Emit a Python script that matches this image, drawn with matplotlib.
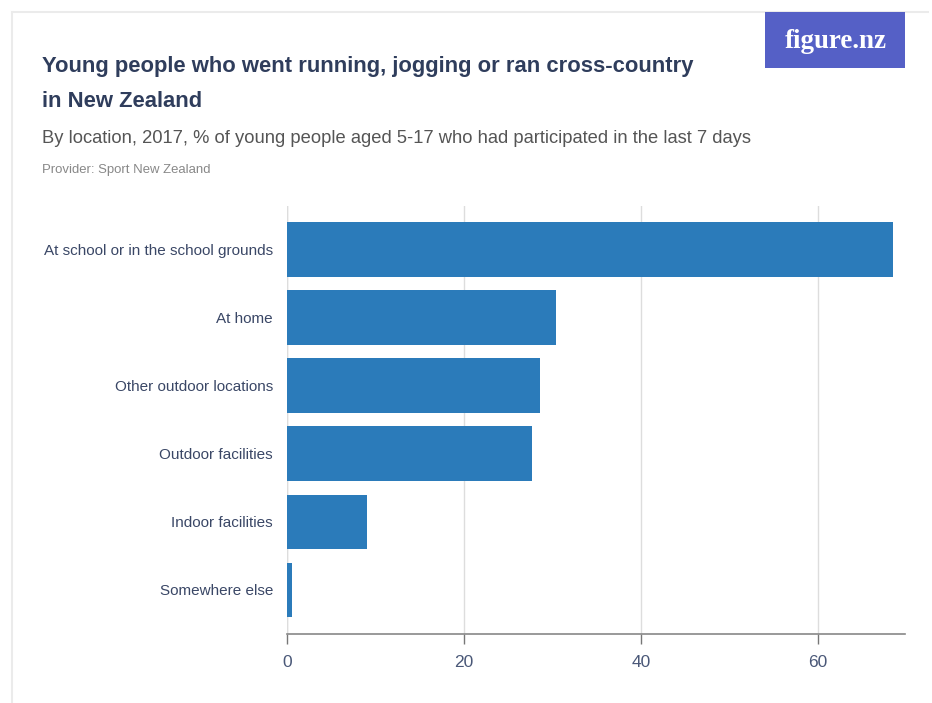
import matplotlib.pyplot as plt
from matplotlib.patches import Rectangle
from matplotlib.lines import Line2D

# Participation by location, 2017 (% of young people aged 5-17, last 7 days)
locations = [
    "At school or in the school grounds",
    "At home",
    "Other outdoor locations",
    "Outdoor facilities",
    "Indoor facilities",
    "Somewhere else",
]
percent = [68.4, 30.4, 28.6, 27.7, 9.0, 0.6]
x_ticks = [0, 20, 40, 60]

NAVY = "#2f3d5c"
BAR = "#2b7bba"

plt.rcParams["font.family"] = ["Liberation Sans", "DejaVu Sans"]

fig = plt.figure(figsize=(9.32, 7.03), dpi=100)
W, H = 932, 703


def fx(px):
    return px / W


def fy(py):
    return 1 - py / H


def fit_width(txt, target_px):
    # shrink/grow a text so its rendered width matches target_px
    renderer = fig.canvas.get_renderer()
    w = txt.get_window_extent(renderer).width
    txt.set_fontsize(txt.get_fontsize() * target_px / w)


# card edges (left and top only, the card runs off the other sides)
for xs, ys in [((fx(12), fx(12)), (fy(703), fy(12))),
               ((fx(12), fx(928)), (fy(12), fy(12)))]:
    fig.add_artist(Line2D(xs, ys, transform=fig.transFigure,
                          color="#ebebeb", linewidth=1.5, zorder=0))

# logo block
fig.patches.append(Rectangle((fx(765), fy(68)), fx(140), 56 / H,
                             transform=fig.transFigure, facecolor="#5560c6",
                             edgecolor="none", zorder=1))
logo = fig.text(fx(836), fy(41), "figure.nz", color="white", fontsize=17,
                family=["Liberation Serif", "DejaVu Serif"], fontweight="bold",
                ha="center", va="center", zorder=2)
fit_width(logo, 102)

t1 = fig.text(fx(42), fy(72), "Young people who went running, jogging or ran cross-country",
              color=NAVY, fontsize=18, fontweight="bold", ha="left", va="baseline")
fit_width(t1, 650)
t2 = fig.text(fx(42), fy(107), "in New Zealand",
              color=NAVY, fontsize=t1.get_fontsize(), fontweight="bold",
              ha="left", va="baseline")
sub = fig.text(fx(42), fy(143),
               "By location, 2017, % of young people aged 5-17 who had participated in the last 7 days",
               color="#555555", fontsize=14, ha="left", va="baseline")
fit_width(sub, 711)
prov = fig.text(fx(42), fy(173), "Provider: Sport New Zealand",
                color="#888888", fontsize=9.5, ha="left", va="baseline")
fit_width(prov, 168)

ax = fig.add_axes([fx(287), fy(634), fx(905 - 287), (634 - 206) / H])
ax.set_zorder(3)
ax.patch.set_alpha(0)
y = list(range(len(locations)))
ax.barh(y, percent, height=0.8, color=BAR, zorder=3)

ax.set_xlim(0, 69.8)
ax.set_ylim(len(locations) - 0.35, -0.64)
ax.set_xticks(x_ticks)
ax.set_xticklabels([str(t) for t in x_ticks])
ax.set_yticks(y)
ax.set_yticklabels(locations)

ax.grid(axis="x", color="#dddddd", linewidth=1, zorder=0)
ax.axvline(0, color="#dddddd", linewidth=1, zorder=1)
for side in ["top", "right", "left"]:
    ax.spines[side].set_visible(False)
ax.spines["bottom"].set_color("#888888")
ax.spines["bottom"].set_linewidth(1.2)

ax.tick_params(axis="y", length=0, pad=10, labelsize=11, labelcolor="#3a4766")
ax.tick_params(axis="x", length=7, width=1, color="#777777", pad=8,
               labelsize=12.5, labelcolor="#4a5878")

# scale the category labels so the longest one spans the same width
renderer = fig.canvas.get_renderer()
ylabels = ax.get_yticklabels()
widest = max(lbl.get_window_extent(renderer).width for lbl in ylabels)
ax.tick_params(axis="y", labelsize=11 * 228 / widest)

fig.savefig("out.png", dpi=100, facecolor="white")
plt.close(fig)
